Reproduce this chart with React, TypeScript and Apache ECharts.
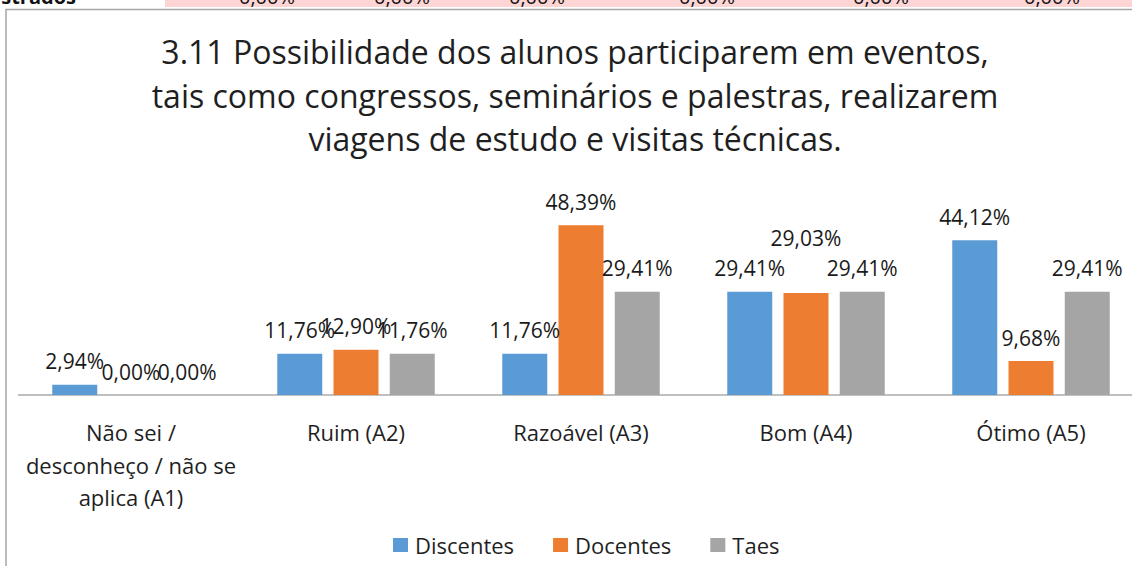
import React, { useEffect, useRef } from "react";
import * as echarts from "echarts";

const titleText =
  "3.11 Possibilidade dos alunos participarem em eventos,\ntais como congressos, seminários e palestras, realizarem\nviagens de estudo e visitas técnicas.";
const categories = [
  "Não sei /\ndesconheço / não se\naplica (A1)",
  "Ruim (A2)",
  "Razoável (A3)",
  "Bom (A4)",
  "Ótimo (A5)",
];
const seriesNames = ["Discentes", "Docentes", "Taes"];
const discentes = [2.94, 11.76, 11.76, 29.41, 44.12];
const docentes = [0.0, 12.9, 48.39, 29.03, 9.68];
const taes = [0.0, 11.76, 29.41, 29.41, 29.41];
const colors = ["#5b9bd5", "#ed7d31", "#a5a5a5"];

// cut-off spreadsheet row above the chart
const topRowLabel = "strados";
const topRowValues = ["0,00%", "0,00%", "0,00%", "0,00%", "0,00%", "0,00%"];
const topRowValueRight = [295, 430, 565, 735, 909, 1080];

const FONT = "'Open Sans', 'Noto Sans', sans-serif";
const fmt = (v: number) => v.toFixed(2).replace(".", ",") + "%";

export default function App() {
  const ref = useRef<HTMLDivElement>(null);
  useEffect(() => {
    const chart = echarts.init(ref.current!, undefined, { renderer: "svg" });
    const dataSets = [discentes, docentes, taes];
    const graphic: any[] = [
      {
        type: "rect",
        shape: { x: 165, y: 0, width: 1000, height: 7 },
        style: { fill: "#fdd5d5" },
        z: 0,
      },
      {
        type: "text",
        x: 76,
        y: 6,
        style: {
          text: topRowLabel,
          fontSize: 20,
          fontFamily: FONT,
          fontWeight: "bold",
          fill: "#111",
          align: "right",
          verticalAlign: "bottom",
        },
      },
      ...topRowValues.map((t, i) => ({
        type: "text",
        x: topRowValueRight[i],
        y: 6,
        style: {
          text: t,
          fontSize: 20,
          fontFamily: FONT,
          fill: "#111",
          align: "right",
          verticalAlign: "bottom",
        },
      })),
      {
        type: "rect",
        shape: { x: 6, y: 9.5, width: 1300, height: 700 },
        style: { fill: "none", stroke: "#a6a6a6", lineWidth: 1.5 },
        z: 0,
      },
    ];
    chart.setOption({
      animation: false,
      backgroundColor: "#ffffff",
      title: {
        text: titleText,
        left: "center",
        top: 30,
        padding: 0,
        textStyle: {
          fontFamily: FONT,
          fontSize: 32,
          lineHeight: 43.5,
          fontWeight: "normal",
          color: "#1f1f1f",
        },
      },
      legend: {
        data: seriesNames,
        left: 393,
        top: 534,
        padding: 0,
        icon: "rect",
        itemWidth: 15,
        itemHeight: 14,
        itemGap: 39,
        textStyle: {
          fontFamily: FONT,
          fontSize: 22,
          color: "#1f1f1f",
          padding: [0, 0, 0, 2],
        },
      },
      grid: { left: 18.5, right: 6.5, top: 184.4, bottom: 171 },
      xAxis: {
        type: "category",
        data: categories,
        axisLine: { lineStyle: { color: "#ababab", width: 1.5 } },
        axisTick: { show: false },
        axisLabel: {
          margin: 21,
          fontFamily: FONT,
          fontSize: 22,
          lineHeight: 32.5,
          color: "#1f1f1f",
          interval: 0,
        },
      },
      yAxis: {
        type: "value",
        min: 0,
        max: 60,
        show: false,
        splitLine: { show: false },
      },
      graphic,
      series: seriesNames.map((name, i) => ({
        name,
        type: "bar",
        data: dataSets[i].map((v, j) =>
          // the reference lifts the Docentes label of "Bom (A4)" above its neighbours
          i === 1 && j === 3 ? { value: v, label: { offset: [0, -32] } } : v
        ),
        barWidth: 45,
        barGap: "25%",
        itemStyle: { color: colors[i] },
        label: {
          show: true,
          position: "top",
          distance: 13,
          fontFamily: FONT,
          fontSize: 21,
          lineHeight: 21,
          color: "#1a1a1a",
          formatter: (p: any) => fmt(p.value),
        },
      })),
    });
    return () => chart.dispose();
  }, []);
  return (
    <div
      style={{
        position: "fixed",
        left: 0,
        top: 0,
        width: 1132,
        height: 566,
        overflow: "hidden",
        background: "#fff",
      }}
    >
      <div ref={ref} style={{ width: 1150, height: 566 }} />
    </div>
  );
}
